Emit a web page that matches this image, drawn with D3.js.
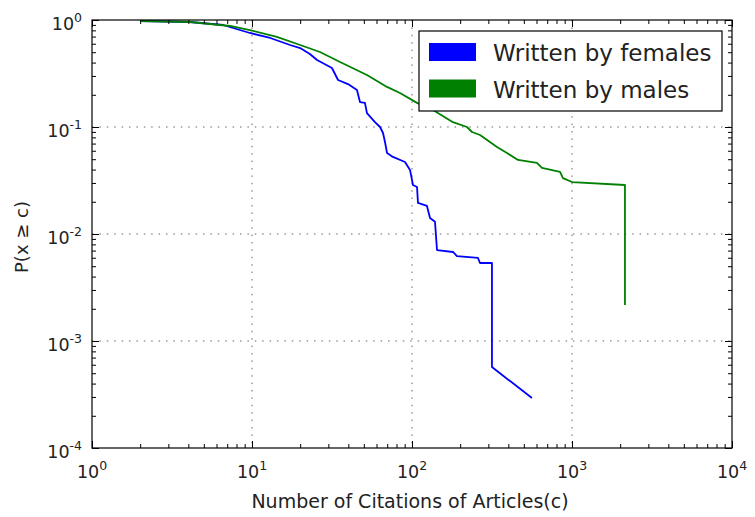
<!DOCTYPE html>
<html>
<head>
<meta charset="utf-8">
<script src="https://cdn.jsdelivr.net/npm/d3@7"></script>
<style>
  html, body { margin: 0; padding: 0; background: #fff; }
  svg { display: block; font-family: "DejaVu Sans", sans-serif; }
</style>
</head>
<body>
<svg id="chart" width="755" height="517"></svg>
<script>
// Complementary cumulative distribution of citation counts
const citationsFemale = [2, 4.1, 6.6, 9.7, 13, 17.3, 20, 23, 25.5, 31.6, 34.5, 39.8, 45.3, 47.3, 50.8, 52.3,
  58.7, 63.1, 65.9, 67.8, 69.8, 76, 90.4, 97.2, 101.4, 107.5, 109, 124, 129.6, 139.2, 143.3,
  180.4, 191, 258.5, 266, 316, 316, 562];
const probFemale = [0.979, 0.958, 0.898, 0.756, 0.679, 0.584, 0.547, 0.481, 0.423, 0.356, 0.275, 0.252,
  0.222, 0.171, 0.168, 0.135, 0.111, 0.100, 0.0879, 0.0724, 0.0572, 0.0525, 0.0471, 0.0397,
  0.0287, 0.0275, 0.0195, 0.0183, 0.0141, 0.0130, 0.00708, 0.00679, 0.00622, 0.00597,
  0.00536, 0.00536, 0.000571, 0.000293];

const citationsMale = [2, 4.1, 7.3, 9.7, 14.3, 20, 26.6, 35.5, 52.3, 69.8, 84.1, 107.5, 135.3, 180.4,
  220.6, 237.1, 266.1, 339.8, 392.4, 459.8, 604, 649.4, 841.4, 878.6, 1000, 2143, 2143];
const probMale = [0.979, 0.958, 0.879, 0.806, 0.694, 0.584, 0.502, 0.405, 0.306, 0.237, 0.208, 0.168,
  0.144, 0.111, 0.100, 0.0898, 0.0842, 0.0650, 0.0572, 0.0492, 0.0461, 0.0414, 0.0380,
  0.0333, 0.0306, 0.0287, 0.00217];

const seriesNames = ["Written by females", "Written by males"];
const seriesColors = ["#0000ff", "#008000"];

const xTickExponents = [0, 1, 2, 3, 4];
const yTickExponents = [0, -1, -2, -3, -4];
const xLabel = "Number of Citations of Articles(c)";
const yLabel = "P(x \u2265 c)";

const margin = { left: 92, top: 20, right: 23, bottom: 69 };
const W = 755, H = 517;
const plotW = W - margin.left - margin.right;
const plotH = H - margin.top - margin.bottom;

const svg = d3.select("#chart");

const x = d3.scaleLog().domain([1, 1e4]).range([margin.left, margin.left + plotW]);
const y = d3.scaleLog().domain([1e-4, 1]).range([margin.top + plotH, margin.top]);

const majorX = xTickExponents.map(e => Math.pow(10, e));
const majorY = yTickExponents.map(e => Math.pow(10, e));
const minorVals = (lo, hi) => {
  const out = [];
  for (let e = lo; e < hi; e++) for (let k = 2; k <= 9; k++) out.push(k * Math.pow(10, e));
  return out;
};
const minorX = minorVals(0, 4);
const minorY = minorVals(-4, 0);

// dotted grid on major decades
const grid = svg.append("g").attr("stroke", "#666").attr("stroke-width", 1)
  .attr("stroke-dasharray", "1.5,5.9").attr("fill", "none");
grid.selectAll("line.gx").data(majorX.slice(1, -1)).join("line")
  .attr("x1", d => x(d)).attr("x2", d => x(d))
  .attr("y1", margin.top).attr("y2", margin.top + plotH);
grid.selectAll("line.gy").data(majorY.slice(1, -1)).join("line")
  .attr("y1", d => y(d)).attr("y2", d => y(d))
  .attr("x1", margin.left).attr("x2", margin.left + plotW);

// series lines
const lineGen = d3.line().x(d => x(d[0])).y(d => y(d[1]));
const series = [
  d3.zip(citationsFemale, probFemale),
  d3.zip(citationsMale, probMale)
];
svg.append("defs").append("clipPath").attr("id", "plotClip")
  .append("rect").attr("x", margin.left).attr("y", margin.top - 1)
  .attr("width", plotW).attr("height", plotH + 1);
svg.append("g").attr("clip-path", "url(#plotClip)")
  .selectAll("path").data(series).join("path")
  .attr("d", lineGen)
  .attr("fill", "none")
  .attr("stroke", (d, i) => seriesColors[i])
  .attr("stroke-width", 1.8)
  .attr("stroke-linejoin", "round");

// inward ticks on all four sides
function tickAxis(axisFn, scale, values, size, transform) {
  const g = svg.append("g").attr("transform", transform)
    .call(axisFn(scale).tickValues(values).tickSize(size).tickFormat(""));
  g.select(".domain").remove();
  g.selectAll(".tick line").attr("stroke", "#000").attr("stroke-width", 1);
}
const bottomT = `translate(0,${margin.top + plotH})`;
const topT = `translate(0,${margin.top})`;
const leftT = `translate(${margin.left},0)`;
const rightT = `translate(${margin.left + plotW},0)`;
tickAxis(d3.axisBottom, x, majorX, -7, bottomT);
tickAxis(d3.axisBottom, x, minorX, -4, bottomT);
tickAxis(d3.axisTop, x, majorX, -7, topT);
tickAxis(d3.axisTop, x, minorX, -4, topT);
tickAxis(d3.axisLeft, y, majorY, -7, leftT);
tickAxis(d3.axisLeft, y, minorY, -4, leftT);
tickAxis(d3.axisRight, y, majorY, -7, rightT);
tickAxis(d3.axisRight, y, minorY, -4, rightT);

// frame
svg.append("rect")
  .attr("x", margin.left).attr("y", margin.top)
  .attr("width", plotW).attr("height", plotH)
  .attr("fill", "none").attr("stroke", "#000").attr("stroke-width", 1.2);

// power-of-ten tick labels
const tickFont = 17.5, supFont = 12.5;
function powerLabel(sel, exp) {
  sel.append("tspan").text("10");
  sel.append("tspan").attr("dy", -8).attr("font-size", supFont).text(String(exp));
}
xTickExponents.forEach(e => {
  const t = svg.append("text")
    .attr("x", x(Math.pow(10, e))).attr("y", margin.top + plotH + 30)
    .attr("text-anchor", "middle").attr("font-size", tickFont).attr("fill", "#222");
  powerLabel(t, e);
});
yTickExponents.forEach(e => {
  const t = svg.append("text")
    .attr("x", margin.left - 10).attr("y", y(Math.pow(10, e)) + 9.5)
    .attr("text-anchor", "end").attr("font-size", tickFont).attr("fill", "#222");
  powerLabel(t, e);
});

// axis titles
svg.append("text")
  .attr("x", margin.left + plotW / 2 - 2).attr("y", 508)
  .attr("text-anchor", "middle").attr("font-size", 19).attr("fill", "#222")
  .text(xLabel);
svg.append("text")
  .attr("transform", `translate(28,${margin.top + plotH / 2 + 3}) rotate(-90)`)
  .attr("text-anchor", "middle").attr("font-size", 18).attr("fill", "#222")
  .text(yLabel);

// legend
const legend = svg.append("g");
legend.append("rect")
  .attr("x", 419).attr("y", 31).attr("width", 303).attr("height", 80)
  .attr("fill", "#fff").attr("stroke", "#000").attr("stroke-width", 1.2);
seriesNames.forEach((name, i) => {
  const rowY = 43 + i * 36.5;
  legend.append("rect")
    .attr("x", 429).attr("y", rowY).attr("width", 47).attr("height", 18)
    .attr("fill", seriesColors[i]);
  legend.append("text")
    .attr("x", 493).attr("y", rowY + 18)
    .attr("font-size", 23).attr("fill", "#222")
    .text(name);
});
</script>
</body>
</html>
